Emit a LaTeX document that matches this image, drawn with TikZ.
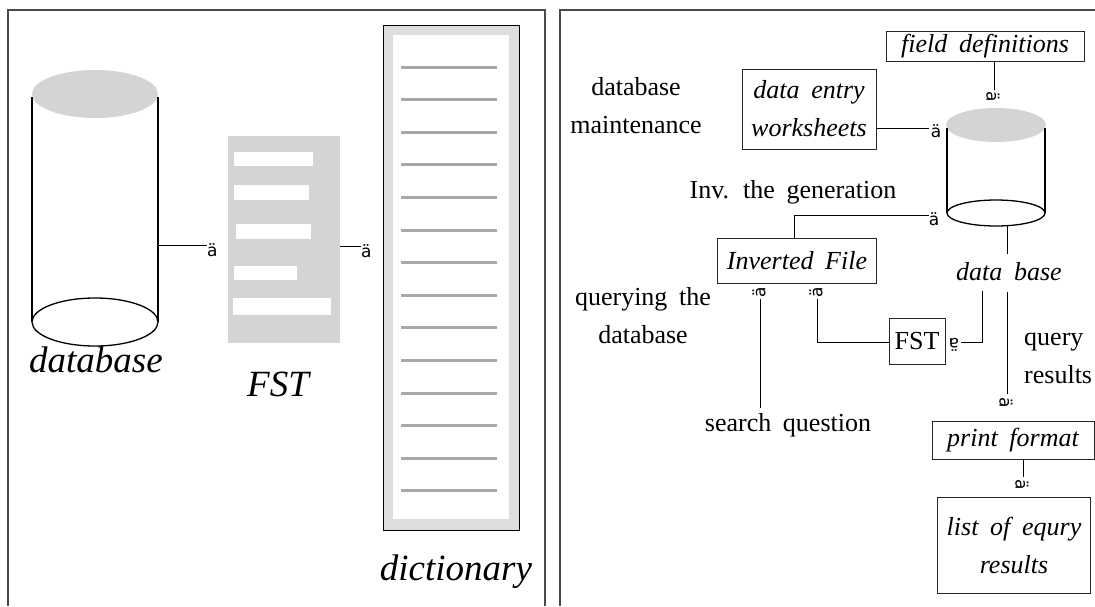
\documentclass[tikz,border=0pt]{standalone}
\usepackage{fontspec}
\setmainfont{Liberation Serif}
\newfontfamily\arrfont{DejaVu Sans}
\definecolor{gfill}{HTML}{D3D4D6}
\definecolor{gdict}{HTML}{DCDDDF}
\definecolor{gline}{HTML}{A7A8AA}
\definecolor{framec}{HTML}{4A4A4A}
\newcommand\bigsz{\fontsize{37}{40}\selectfont}
\newcommand\rsz{\fontsize{26}{38}\selectfont\spaceskip=0.45em plus 0.1em\relax}
\tikzset{
  frame/.style={draw=framec, line width=1.3pt},
  conn/.style={draw=black, line width=0.9pt},
  arrg/.style={font=\arrfont\fontsize{17}{17}\selectfont, inner sep=0pt},
  box/.style={draw=black!85, line width=1pt, inner sep=0pt, align=center, font=\rsz\itshape},
  lbl/.style={inner sep=0pt, align=center, font=\rsz},
  biglbl/.style={inner sep=0pt, font=\bigsz\itshape},
  dline/.style={draw=gline, line width=3pt},
}
\begin{document}
\begin{tikzpicture}[x=1pt,y=-1pt]
\useasboundingbox (0,0) rectangle (1095,606);
% panels
\draw[frame] (8,606) -- (8,10) -- (545,10) -- (545,606);
\draw[frame] (560,606) -- (560,10) -- (1100,10);

% ---- left panel ----
% cylinder
\fill[gfill] (95,94) ellipse [x radius=63, y radius=24];
\draw[line width=1.3pt] (32,97) -- (32,322) (158,97) -- (158,322);
\draw[line width=1.3pt, fill=white] (95,322) ellipse [x radius=63, y radius=24];
\node[biglbl] (dbl) at (96,360) {database};
\coordinate (dbside) at (158,245);
% FST
\fill[gfill] (228,136) rectangle (340,343);
\fill[white] (234,152) rectangle (313,166);
\fill[white] (234,185) rectangle (309,200);
\fill[white] (236,224) rectangle (311,239);
\fill[white] (234,266) rectangle (297,280);
\fill[white] (233,298) rectangle (331,315);
\node[biglbl] (fstl) at (278,384) {FST};
\coordinate (fstside) at (340,246);
% dictionary
\draw[line width=1pt, fill=gdict] (383,25) rectangle (519,530);
\fill[white] (393,35) rectangle (509,519);
\foreach \i in {0,...,13} {
  \draw[dline] (401,{67+\i*32.6}) -- (497,{67+\i*32.6});
}
\node[biglbl] (dictl) at (456,572) {dictionary};
% arrows left
\node[arrg, anchor=west] (a1) at (207,250) {ä};
\node[arrg, anchor=west] (a2) at (361,251) {ä};
\draw[conn] (dbside) -- (dbside -| a1.west);
\draw[conn] (fstside) -- (fstside -| a2.west);

% ---- right panel ----
\node[box, minimum width=198pt, minimum height=30pt] (fd) at (985,46) {field definitions};
\node[lbl] (dbm) at (636,106) {database\\maintenance};
\node[box, minimum width=134pt, minimum height=80pt] (de) at (809,109) {data entry\\worksheets};
% cylinder 2
\fill[gfill] (996,125) ellipse [x radius=50, y radius=17];
\draw[line width=1.3pt] (947,128) -- (947,213) (1045,128) -- (1045,213);
\draw[line width=1.3pt] (996,213) ellipse [x radius=49, y radius=13];
\coordinate (cylbot) at (1007,226);
\node[lbl] (inv) at (793,192) {Inv. the generation};
\node[box, minimum width=159pt, minimum height=45pt] (if) at (797,261) {Inverted File};
\node[lbl, font=\rsz\itshape] (dbase) at (1009,272) {data base};
\node[lbl] (qdb) at (643,316) {querying the\\database};
\node[box, font=\rsz, minimum width=56pt, minimum height=46pt] (fst) at (917,341) {FST};
\node[lbl, align=left, anchor=west] (qr) at (1024,358) {query\\results};
\node[lbl] (sq) at (788,425) {search question};
\node[box, minimum width=162pt, minimum height=38pt] (pf) at (1013,440) {print format};
\node[box, minimum width=153pt, minimum height=96pt] (lq) at (1014,545) {list of equry\\results};

% arrow glyphs right panel
\node[arrg, rotate=-90] (g1) at (993,97) {ä};
\node[arrg] (g2) at (936,131) {ä};
\node[arrg] (g3) at (934,219) {ä};
\node[arrg, rotate=90] (g4) at (759,292) {ä};
\node[arrg, rotate=90] (g5) at (816,292) {ä};
\node[arrg, rotate=180] (g6) at (954,345) {ä};
\node[arrg, rotate=-90] (g7) at (1006,403) {ä};
\node[arrg, rotate=-90] (g8) at (1022,485) {ä};

% connectors
\coordinate (c1) at (994,90);
\draw[conn] (fd.south -| c1) -- (c1);
\coordinate (c2) at (929,128);
\draw[conn] (de.east |- c2) -- (c2);
\coordinate (c3) at (929,215);
\coordinate (c3b) at (794,215);
\draw[conn] (if.north -| c3b) -- (c3b) -- (c3);
\coordinate (c4) at (1007,254);
\draw[conn] (cylbot) -- (c4);
\coordinate (c5a) at (1007,292);
\coordinate (c5b) at (1007,394);
\draw[conn] (c5a) -- (c5b);
\coordinate (c6a) at (982,291);
\coordinate (c6b) at (982,342);
\coordinate (c6c) at (961,342);
\draw[conn] (c6a) -- (c6b) -- (c6c);
\coordinate (c7a) at (817,342);
\coordinate (c7b) at (817,299);
\draw[conn] (fst.west |- c7a) -- (c7a) -- (c7b);
\coordinate (c8a) at (760,299);
\coordinate (c8b) at (760,408);
\draw[conn] (c8a) -- (c8b);
\coordinate (c9) at (1023,477);
\draw[conn] (pf.south -| c9) -- (c9);
\end{tikzpicture}
\end{document}
